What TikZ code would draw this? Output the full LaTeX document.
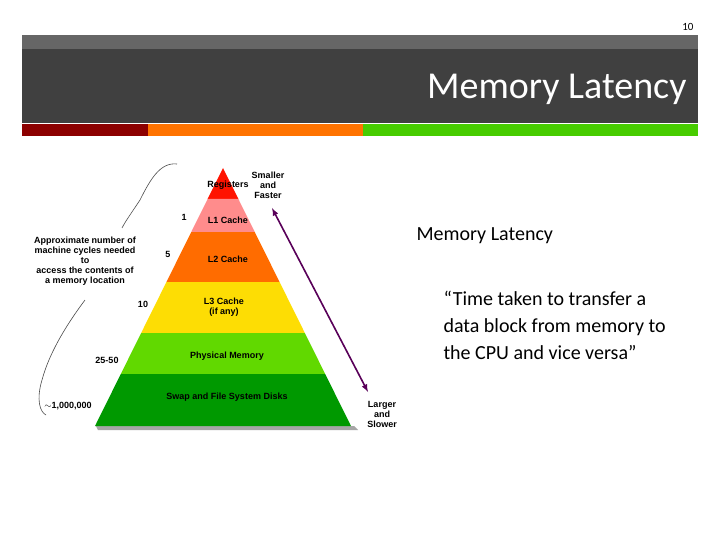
\documentclass[tikz,border=0pt]{standalone}
\usepackage{fontspec}
\setmainfont{Carlito}
\newfontfamily\arialb{Liberation Sans}
\begin{document}
\begin{tikzpicture}[x=1pt,y=-1pt,
  lab/.style={font=\arialb\fontsize{9}{10}\selectfont\bfseries, text=black, inner sep=0pt, align=center},
  layer/.style={draw=none}]
\useasboundingbox (0,0) rectangle (720,540);
\fill[white] (0,0) rectangle (720,540);
% header
\fill[gray!80!black] (22,35) rectangle (698,49);
\fill[black!75] (22,49) rectangle (698,123);
\fill[red!55!black] (22,124) rectangle (148,136);
\fill[orange!90!red] (148,124) rectangle (363,136);
\fill[green!65!yellow!80!black] (363,124) rectangle (698,136);
\node[anchor=east, font=\fontsize{11}{12}\selectfont] (pg) at (697,27) {10};
\node[anchor=east, text=white, font=\fontsize{38}{40}\selectfont] (title) at (690,89) {Memory Latency};
% pyramid
\fill[gray!70] (98,430) -- (358,430) -- (354,426) -- (96,426) -- cycle;
\def\L#1{223-0.4961*(#1-168)}
\def\R#1{223+0.4961*(#1-168)}
\fill[red!85!orange] (223,168) -- ({\R{199}},199) -- ({\L{199}},199) -- cycle;
\fill[red!45!white] ({\L{199}},199) -- ({\R{199}},199) -- ({\R{232}},232) -- ({\L{232}},232) -- cycle;
\fill[orange!85!red] ({\L{232}},232) -- ({\R{232}},232) -- ({\R{282}},282) -- ({\L{282}},282) -- cycle;
\fill[yellow!80!orange] ({\L{282}},282) -- ({\R{282}},282) -- ({\R{333}},333) -- ({\L{333}},333) -- cycle;
\fill[green!55!yellow!85!black] ({\L{333}},333) -- ({\R{333}},333) -- ({\R{374}},374) -- ({\L{374}},374) -- cycle;
\fill[green!60!black] ({\L{374}},374) -- ({\R{374}},374) -- ({\R{426}},426) -- ({\L{426}},426) -- cycle;
\node[lab] (reg) at (228,185) {Registers};
\node[lab] (l1) at (228,220) {L1 Cache};
\node[lab] (l2) at (228,259) {L2 Cache};
\node[lab] (l3) at (224,307) {L3 Cache\\(if any)};
\node[lab] (pm) at (227,356) {Physical Memory};
\node[lab] (sw) at (227,397) {Swap and File System Disks};
\node[lab] (sf) at (268,185) {Smaller\\and\\Faster};
\node[lab] (ls) at (382,414) {Larger\\and\\Slower};
\node[lab] (n1) at (184,217) {1};
\node[lab] (n5) at (168,254) {5};
\node[lab] (n10) at (143,304) {10};
\node[lab] (n25) at (107,360) {25-50};
\node[lab] (n1m) at (68,406) {$\sim$1,000,000};
\node[lab] (appr) at (85,261) {Approximate number of\\machine cycles needed\\to\\access the contents of\\a memory location};
\coordinate (at) at (272,208);
\coordinate (ab) at (368,392);
\draw[violet!70!black, line width=1.6pt, <->, >=latex] (at) -- (ab);
\draw[black!70, line width=0.6pt] (177,164) .. controls (160,162) and (150,180) .. (140,200) .. controls (130,215) and (125,222) .. (122,228);
\draw[black!70, line width=0.6pt] (85,300) .. controls (70,320) and (50,350) .. (42,380) .. controls (36,400) and (40,412) .. (46,415);
% right text
\node[anchor=west, font=\fontsize{20}{24}\selectfont] (ml) at (413,236) {Memory Latency};
\node[anchor=north west, align=left, font=\fontsize{20}{27}\selectfont] (q) at (440,288) {“Time taken to transfer a\\data block from memory to\\the CPU and vice versa”};
\end{tikzpicture}
\end{document}
